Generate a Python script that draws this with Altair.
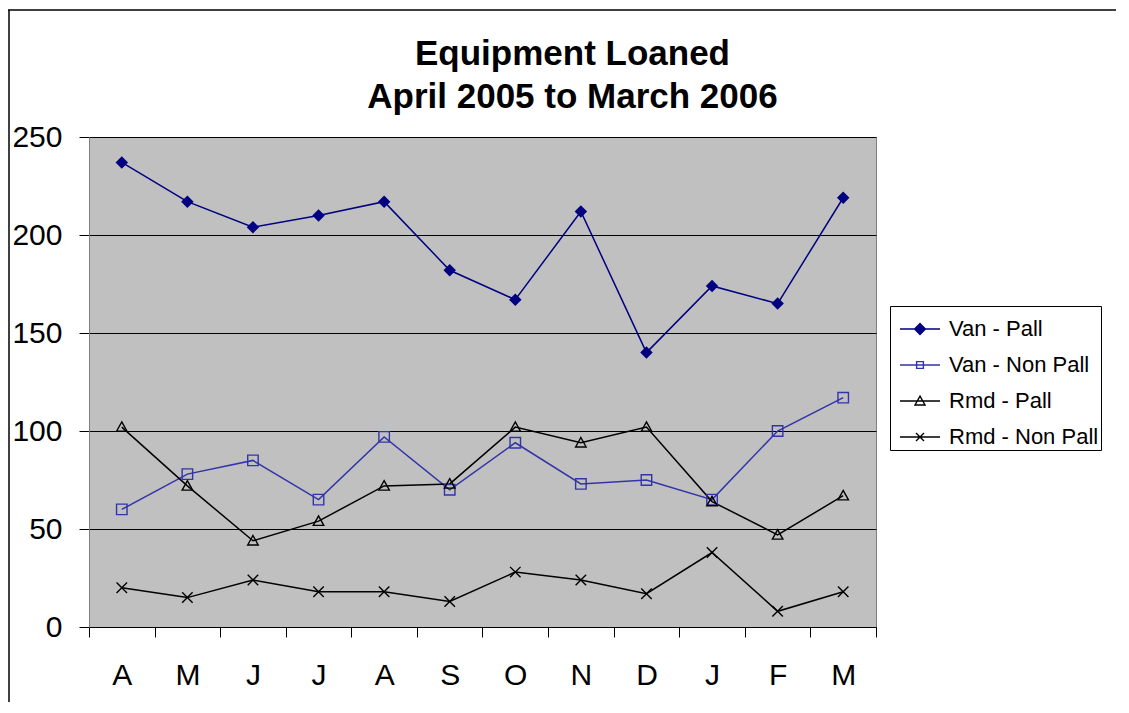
import altair as alt
import pandas as pd

months = ["April", "May", "June", "July", "August", "September", "October",
          "November", "December", "January", "February", "March"]
series_names = ["Van  - Pall", "Van - Non Pall", "Rmd - Pall", "Rmd - Non Pall"]
van_pall = [237, 217, 204, 210, 217, 182, 167, 212, 140, 174, 165, 219]
van_non_pall = [60, 78, 85, 65, 97, 70, 94, 73, 75, 65, 100, 117]
rmd_pall = [102, 72, 44, 54, 72, 73, 102, 94, 102, 64, 47, 67]
rmd_non_pall = [20, 15, 24, 18, 18, 13, 28, 24, 17, 38, 8, 18]

series_values = [van_pall, van_non_pall, rmd_pall, rmd_non_pall]
rows = []
for name, vals in zip(series_names, series_values):
    for i, (m, v) in enumerate(zip(months, vals)):
        rows.append({"month": m, "series": name, "pt": name + " pt", "value": v, "order": i})
df = pd.DataFrame(rows)

point_keys = [n + " pt" for n in series_names]
stroke_colors = ["#000080", "#3333AA", "#000000", "#000000"]
fill_colors = ["#000080", "transparent", "transparent", "transparent"]
point_shapes = [
    "M0,-1L1,0L0,1L-1,0Z",
    "M-1,-1L1,-1L1,1L-1,1Z",
    "M0,-1L1,0.8L-1,0.8Z",
    "M-1,-1L1,1M-1,1L1,-1",
]
legend_shapes = [
    "M-1,0L1,0M0,-0.27L0.27,0L0,0.27L-0.27,0Z",
    "M-1,0L1,0M-0.17,-0.17L0.17,-0.17L0.17,0.17L-0.17,0.17Z",
    "M-1,0L1,0M0,-0.24L0.25,0.2L-0.25,0.2Z",
    "M-1,0L1,0M-0.2,-0.2L0.2,0.2M-0.2,0.2L0.2,-0.2",
]

all_keys = series_names + point_keys
FONT = "Liberation Sans"

x_enc = alt.X(
    "month:N",
    sort=months,
    scale=alt.Scale(type="band", paddingInner=0, paddingOuter=0),
    axis=alt.Axis(
        title=None,
        labelExpr="substring(datum.label, 0, 1)",
        labelFont=FONT,
        labelFontSize=30,
        labelColor="#000000",
        labelPadding=23,
        labelAngle=0,
        tickBand="extent",
        tickSize=10,
        tickColor="#000000",
        domainColor="#000000",
        grid=False,
    ),
)
y_enc = alt.Y(
    "value:Q",
    scale=alt.Scale(domain=[0, 250], nice=False),
    axis=alt.Axis(
        title=None,
        values=[0, 50, 100, 150, 200, 250],
        labelFont=FONT,
        labelFontSize=30,
        labelColor="#000000",
        labelPadding=17,
        tickSize=10,
        tickColor="#000000",
        domainColor="#808080",
        gridColor="#000000",
        gridWidth=1,
    ),
)

legend_spec = alt.Legend(
    title=None,
    values=series_names,
    orient="none",
    legendX=801,
    legendY=169,
    strokeColor="#000000",
    fillColor="#FFFFFF",
    padding=2,
    labelFont=FONT,
    labelFontSize=22,
    labelColor="#000000",
    labelOffset=8,
    symbolOffset=7,
    symbolSize=1600,
    symbolStrokeWidth=1.4,
    rowPadding=4,
    labelLimit=300,
)

stroke_scale = alt.Scale(domain=all_keys, range=stroke_colors + stroke_colors)
fill_scale = alt.Scale(domain=all_keys, range=fill_colors + fill_colors)
shape_scale = alt.Scale(domain=all_keys, range=legend_shapes + point_shapes)

base = alt.Chart(df)

lines = base.mark_line(strokeWidth=1.5).encode(
    x=x_enc,
    y=y_enc,
    stroke=alt.Stroke("series:N", scale=stroke_scale, legend=legend_spec),
    detail="series:N",
    order="order:Q",
)

points = base.mark_point(size=110, strokeWidth=1.4, opacity=1, filled=False).encode(
    x=x_enc,
    y=y_enc,
    shape=alt.Shape("pt:N", scale=shape_scale, legend=legend_spec),
    stroke=alt.Stroke("pt:N", scale=stroke_scale, legend=legend_spec),
    fill=alt.Fill("pt:N", scale=fill_scale, legend=legend_spec),
)

frame_top = alt.Chart(alt.Data(values=[{}])).mark_rule(
    stroke="#000000", strokeWidth=1.5
).encode(x=alt.value(-81), x2=alt.value(1040), y=alt.value(-127))
frame_left = alt.Chart(alt.Data(values=[{}])).mark_rule(
    stroke="#000000", strokeWidth=1.5
).encode(x=alt.value(-80), y=alt.value(-127), y2=alt.value(700))

chart = alt.layer(frame_top, frame_left, lines, points).properties(
    width=787,
    height=490,
    background="#FFFFFF",
    padding={"left": 81, "top": 129, "right": 240, "bottom": 75},
    autosize=alt.AutoSizeParams(type="none"),
    title=alt.TitleParams(
        text=["Equipment Loaned", "April 2005 to March 2006"],
        font=FONT,
        fontSize=35,
        fontWeight="bold",
        color="#000000",
        lineHeight=43,
        anchor="middle",
        dx=90,
        offset=-106,
    ),
).configure_view(
    fill="#C0C0C0", stroke="#808080", strokeWidth=1
)

chart.save("out.html", embed_options={"renderer": "svg", "actions": False})
